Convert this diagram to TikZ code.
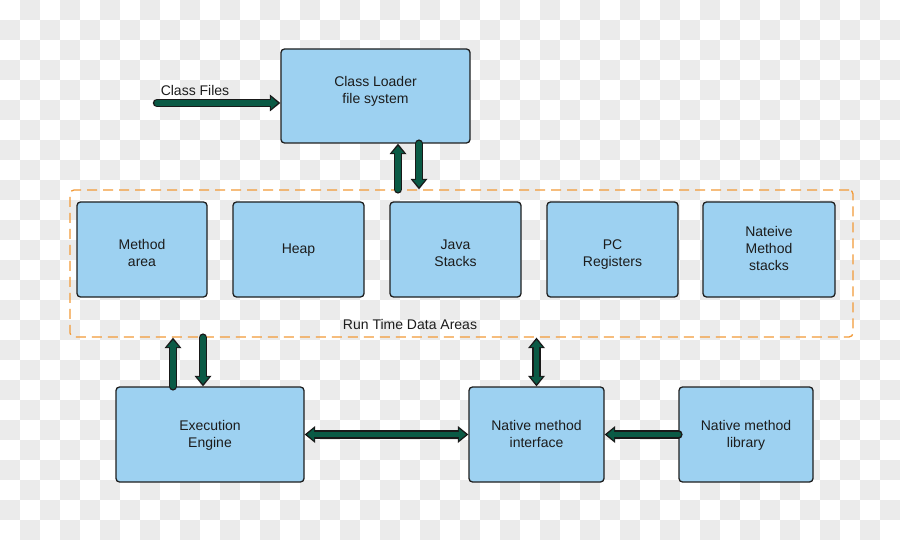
\documentclass[tikz,border=0pt]{standalone}
\usepackage{fontspec}
\setmainfont{Liberation Sans}
\usetikzlibrary{arrows.meta,calc}
\definecolor{boxblue}{HTML}{9DD1F1}
\definecolor{arrowgreen}{HTML}{0A5A45}
\definecolor{dashorange}{HTML}{F29A38}
\definecolor{checker}{HTML}{EBEBEB}
\definecolor{txt}{HTML}{1C1C1C}
\begin{document}
\begin{tikzpicture}[x=1pt,y=-1pt,
 box/.style={draw=black!88, line width=1.3pt, fill=boxblue, rounded corners=3.5pt, inner sep=0pt},
 lbl/.style={text=txt, font=\fontsize{14}{17}\selectfont, inner sep=0pt, align=center},
 fatone/.style={preaction={draw=black!90, line width=8.5pt, line cap=round, shorten >=0pt, shorten <=0pt, -{Triangle[width=17pt,length=10.5pt,line width=0pt]}},
   draw=arrowgreen, line width=5.5pt, line cap=round, -{Triangle[width=12pt,length=7pt,line width=0pt]}, shorten >=2.4pt},
 fattwo/.style={preaction={draw=black!90, line width=8.5pt, line cap=butt, shorten >=0pt, shorten <=0pt, {Triangle[width=17pt,length=10.5pt,line width=0pt]}-{Triangle[width=17pt,length=10.5pt,line width=0pt]}},
   draw=arrowgreen, line width=5.5pt, {Triangle[width=12pt,length=7pt,line width=0pt]}-{Triangle[width=12pt,length=7pt,line width=0pt]}, shorten >=2.4pt, shorten <=2.4pt},
 rtbox/.style={draw=dashorange, line width=1.3pt, dash pattern=on 10pt off 6pt, rounded corners=4pt, inner sep=0pt}
]
\useasboundingbox (0,0) rectangle (900,540);
\fill[white] (0,0) rectangle (900,540);
\foreach \i in {0,2,...,44}{\foreach \j in {1,3,...,25}{\fill[checker] (20*\i,20*\j) rectangle ++(20,20);}}
\foreach \i in {1,3,...,43}{\foreach \j in {0,2,...,26}{\fill[checker] (20*\i,20*\j) rectangle ++(20,20);}}

\node[rtbox, minimum width=783pt, minimum height=147pt] (rt) at (461.5,263.5) {};
\node[lbl] (rtl) at (410,324) {Run Time Data Areas};

\node[box, minimum width=189pt, minimum height=94pt] (cl) at (375.5,96) {};
\node[lbl] (cltext) at (375.5,91.5) {Class Loader\\file system};
\node[lbl] (cflbl) at (195,90) {Class Files};
\coordinate (cfs) at (157,103);

\node[box, minimum width=130pt, minimum height=95pt] (ma) at (142,249.5) {};
\node[box, minimum width=131pt, minimum height=95pt] (hp) at (298.5,249.5) {};
\node[box, minimum width=131pt, minimum height=95pt] (js) at (455.5,249.5) {};
\node[box, minimum width=131pt, minimum height=95pt] (pc) at (612.5,249.5) {};
\node[box, minimum width=132pt, minimum height=95pt] (nms) at (769,249.5) {};
\node[lbl] (matext) at (142,252.5) {Method\\area};
\node[lbl] (hptext) at (298.5,250.2) {Heap};
\node[lbl] (jstext) at (455.5,253.5) {Java\\Stacks};
\node[lbl] (pctext) at (612.5,254.5) {PC\\Registers};
\node[lbl] (nmstext) at (769,248.5) {Nateive\\Method\\stacks};

\node[box, minimum width=188pt, minimum height=95pt] (ee) at (210,434.5) {};
\node[box, minimum width=135pt, minimum height=95pt] (nmi) at (536.5,434.5) {};
\node[box, minimum width=134pt, minimum height=95pt] (nml) at (746,434.5) {};
\node[lbl] (eetext) at (210,435.5) {Execution\\Engine};
\node[lbl] (nmitext) at (536.5,433.5) {Native method\\interface};
\node[lbl] (nmltext) at (746,435.5) {Native method\\library};

\coordinate (a1) at (398,0);
\coordinate (a2) at (419,0);
\coordinate (a3) at (173,0);
\coordinate (a4) at (203,0);

\draw[fatone] (cfs) -- (cl.west |- cfs);
\draw[fatone] (a1 |- rt.north) -- (a1 |- cl.south);
\draw[fatone] (a2 |- cl.south) -- (a2 |- rt.north);
\draw[fatone] (a3 |- ee.north) -- (a3 |- rt.south);
\draw[fatone] (a4 |- rt.south) -- (a4 |- ee.north);
\draw[fattwo] (nmi.north |- rt.south) -- (nmi.north);
\draw[fattwo] (ee.east) -- (nmi.west);
\draw[fatone] (nml.west) -- (nmi.east);
\end{tikzpicture}
\end{document}
